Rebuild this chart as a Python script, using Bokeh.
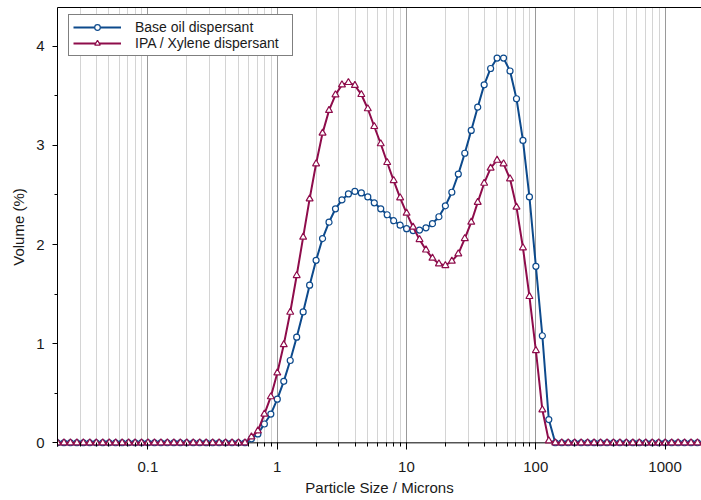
from bokeh.plotting import figure
from bokeh.models import (Range1d, FixedTicker, CustomJSTickFormatter, LogAxis,
                          Span, Legend, LegendItem, ColumnDataSource)
from bokeh.embed import file_html
from bokeh.resources import INLINE

# Particle size classes (microns)
sizes = [
    0.02, 0.02244, 0.02518, 0.02825, 0.0317, 0.03557, 0.03991, 0.04477, 0.05024, 0.05637,
    0.06325, 0.07096, 0.07962, 0.08934, 0.10024, 0.11247, 0.12619, 0.14159, 0.15887, 0.17825,
    0.2, 0.2244, 0.2518, 0.2825, 0.317, 0.3557, 0.3991, 0.4477, 0.5024, 0.5637,
    0.6325, 0.7096, 0.7962, 0.8934, 1.0024, 1.1247, 1.2619, 1.4159, 1.5887, 1.7825,
    2.0, 2.244, 2.518, 2.825, 3.17, 3.557, 3.991, 4.477, 5.024, 5.637,
    6.325, 7.096, 7.962, 8.934, 10.024, 11.247, 12.619, 14.159, 15.887, 17.825,
    20.0, 22.44, 25.18, 28.25, 31.7, 35.57, 39.91, 44.77, 50.24, 56.37,
    63.25, 70.96, 79.62, 89.34, 100.24, 112.47, 126.19, 141.59, 158.87, 178.25,
    200.0, 224.4, 251.8, 282.5, 317.0, 355.7, 399.1, 447.7, 502.4, 563.7,
    632.5, 709.6, 796.2, 893.4, 1002.4, 1124.7, 1261.9, 1415.9, 1588.7, 1782.5,
    2000.0,
]

base_oil = [
    0, 0, 0, 0, 0, 0, 0, 0, 0, 0,
    0, 0, 0, 0, 0, 0, 0, 0, 0, 0,
    0, 0, 0, 0, 0, 0, 0, 0, 0, 0,
    0.04, 0.09, 0.19, 0.29, 0.44, 0.62, 0.83, 1.065, 1.32, 1.59,
    1.84, 2.06, 2.225, 2.36, 2.45, 2.51, 2.535, 2.52, 2.48, 2.42,
    2.36, 2.30, 2.24, 2.195, 2.16, 2.14, 2.145, 2.168, 2.21, 2.28,
    2.39, 2.527, 2.71, 2.92, 3.15, 3.385, 3.61, 3.775, 3.88, 3.88,
    3.75, 3.47, 3.05, 2.48, 1.78, 1.08, 0.235, 0, 0, 0,
    0, 0, 0, 0, 0, 0, 0, 0, 0, 0,
    0, 0, 0, 0, 0, 0, 0, 0, 0, 0,
    0,
]

ipa_xylene = [
    0, 0, 0, 0, 0, 0, 0, 0, 0, 0,
    0, 0, 0, 0, 0, 0, 0, 0, 0, 0,
    0, 0, 0, 0, 0, 0, 0, 0, 0, 0,
    0.06, 0.12, 0.29, 0.465, 0.705, 0.99, 1.317, 1.687, 2.074, 2.46,
    2.814, 3.123, 3.352, 3.51, 3.61, 3.634, 3.604, 3.513, 3.369, 3.19,
    3.016, 2.827, 2.645, 2.471, 2.316, 2.175, 2.05, 1.945, 1.862, 1.805,
    1.788, 1.832, 1.906, 2.06, 2.225, 2.425, 2.618, 2.77, 2.85, 2.814,
    2.663, 2.377, 1.967, 1.476, 0.931, 0.333, 0.02, 0, 0, 0,
    0, 0, 0, 0, 0, 0, 0, 0, 0, 0,
    0, 0, 0, 0, 0, 0, 0, 0, 0, 0,
    0,
]

x_major_ticks = [0.1, 1, 10, 100, 1000]
x_minor_ticks = [0.02, 0.03, 0.04, 0.05, 0.06, 0.07, 0.08, 0.09,
                 0.2, 0.3, 0.4, 0.5, 0.6, 0.7, 0.8, 0.9,
                 2, 3, 4, 5, 6, 7, 8, 9,
                 20, 30, 40, 50, 60, 70, 80, 90,
                 200, 300, 400, 500, 600, 700, 800, 900, 2000]
y_major_ticks = [0, 1, 2, 3, 4]
y_minor_ticks = [0.5, 1.5, 2.5, 3.5]

BLUE = "#0d4a8c"
RED = "#8e0c4b"
FONT = "Liberation Sans"
TXT = "#1a1a1a"

src = ColumnDataSource(dict(x=sizes, base=base_oil, ipa=ipa_xylene))

p = figure(width=701, height=500, x_axis_type="log",
           x_range=Range1d(0.02, 1914), y_range=Range1d(-0.037, 4.39),
           output_backend="svg", toolbar_location=None,
           min_border_left=57, min_border_right=0, min_border_top=7,
           min_border_bottom=54)
p.outline_line_color = None
p.background_fill_color = "white"

xt = FixedTicker(ticks=x_major_ticks, minor_ticks=x_minor_ticks)
yt = FixedTicker(ticks=y_major_ticks, minor_ticks=y_minor_ticks)

# grids
p.xgrid.ticker = xt
p.xgrid.grid_line_color = "#9a9a9a"
p.xgrid.minor_grid_line_color = "#d4d4d4"
p.ygrid.grid_line_color = None

# x axis
xa = p.xaxis[0]
xa.ticker = xt
xa.formatter = CustomJSTickFormatter(code="return tick >= 1 ? tick.toFixed(0) : tick.toString();")
xa.axis_line_color = None
xa.major_tick_in = 4
xa.major_tick_out = 3
xa.minor_tick_in = 4
xa.minor_tick_out = 0
xa.major_tick_line_color = "black"
xa.minor_tick_line_color = "black"
xa.major_label_standoff = 12
xa.major_label_text_font = FONT
xa.major_label_text_font_size = "15px"
xa.major_label_text_color = TXT
xa.axis_label = "Particle Size / Microns"
xa.axis_label_text_font = FONT
xa.axis_label_text_font_size = "15px"
xa.axis_label_text_font_style = "normal"
xa.axis_label_text_color = TXT
xa.axis_label_standoff = 4

# y axis
ya = p.yaxis[0]
ya.ticker = yt
ya.axis_line_color = "black"
ya.major_tick_in = 0
ya.major_tick_out = 5
ya.minor_tick_in = 0
ya.minor_tick_out = 3
ya.major_tick_line_color = "black"
ya.minor_tick_line_color = "black"
ya.major_label_standoff = 8
ya.major_label_text_font = FONT
ya.major_label_text_font_size = "15px"
ya.major_label_text_color = TXT
ya.axis_label = "Volume (%)"
ya.axis_label_text_font = FONT
ya.axis_label_text_font_size = "15px"
ya.axis_label_text_font_style = "normal"
ya.axis_label_text_color = TXT
ya.axis_label_standoff = 6

# top border line
top = LogAxis(ticker=FixedTicker(ticks=[]), axis_line_color="black",
              major_tick_line_color=None, minor_tick_line_color=None,
              major_label_text_font_size="0px", major_label_standoff=0,
              major_tick_out=0, minor_tick_out=0)
p.add_layout(top, "above")

# zero baseline
zero = Span(location=0, dimension="width", line_color="black", line_width=1, level="underlay")
p.add_layout(zero)

bl = p.line("x", "base", source=src, line_color=BLUE, line_width=2)
bs = p.scatter("x", "base", source=src, marker="circle", size=6,
               fill_color="white", line_color=BLUE, line_width=1.2)
rl = p.line("x", "ipa", source=src, line_color=RED, line_width=2)
rs = p.scatter("x", "ipa", source=src, marker="triangle", size=7,
               fill_color="white", line_color=RED, line_width=1.2)

legend = Legend(items=[LegendItem(label="Base oil dispersant", renderers=[bl, bs]),
                       LegendItem(label="IPA / Xylene dispersant", renderers=[rl, rs])],
                location=(11, 390), margin=0, padding=4, spacing=0,
                glyph_width=48, glyph_height=14, label_height=14, label_width=153,
                label_standoff=14, border_line_color="black", border_line_width=1,
                background_fill_color="white", background_fill_alpha=1,
                label_text_font=FONT, label_text_font_size="14px", label_text_color=TXT)
p.add_layout(legend)

open("out.html", "w").write(file_html(p, INLINE))
